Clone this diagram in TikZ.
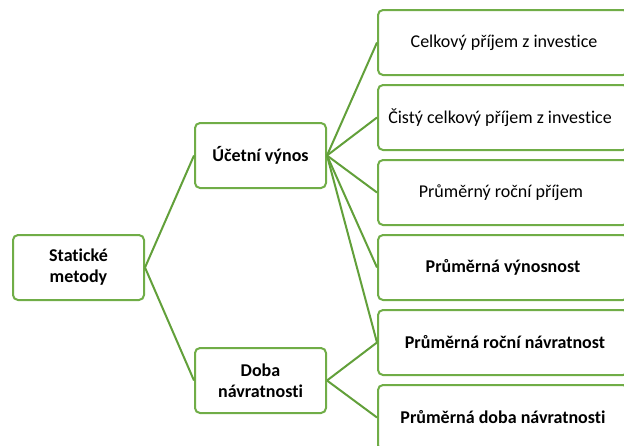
\documentclass[tikz,border=0pt]{standalone}
\usepackage{fontspec}
\setmainfont{Carlito}[Ligatures=NoCommon]
\definecolor{boxgreen}{HTML}{70AD47}
\definecolor{linegreen}{HTML}{62A03A}
\begin{document}
\begin{tikzpicture}[x=1pt,y=-1pt,
  box/.style={draw=boxgreen, line width=2pt, rounded corners=5pt, fill=white,
    minimum width=131pt, minimum height=65pt, align=center, inner sep=2pt,
    font=\fontsize{18}{21}\selectfont},
  rbox/.style={box, minimum width=250pt, anchor=west},
  conn/.style={draw=linegreen, line width=2pt},
  lbl/.style={font=\fontsize{18}{21}\selectfont},
  blbl/.style={font=\fontsize{18}{21}\selectfont\bfseries}]
\useasboundingbox (0,0) rectangle (624,445);
\clip (0,0) rectangle (624,445);
\node[box, blbl] (sm) at (78.5,267.5) {Statické\\metody};
\node[box, blbl] (uv) at (260.5,155.5) {Účetní výnos};
\node[box, blbl] (dn) at (260.5,380.5) {Doba\\návratnosti};
\node[rbox] (r1) at (377,42.5) {};
\node[rbox] (r2) at (377,117.5) {};
\node[rbox] (r3) at (377,192.5) {};
\node[rbox] (r4) at (377,267.5) {};
\node[rbox] (r5) at (377,342.5) {};
\node[rbox] (r6) at (377,417.5) {};
\node[lbl] (t1) at (504,42.5) {Celkový příjem z investice};
\node[lbl] (t2) at (500,117.5) {Čistý celkový příjem z investice};
\node[lbl] (t3) at (501,192.5) {Průměrný roční příjem};
\node[blbl] (t4) at (503,267.5) {Průměrná výnosnost};
\node[blbl] (t5) at (505,342.5) {Průměrná roční návratnost};
\node[blbl] (t6) at (503,417.5) {Průměrná doba návratnosti};
\draw[conn] (sm.east) -- (uv.west);
\draw[conn] (sm.east) -- (dn.west);
\foreach \r in {r1,r2,r3,r4,r5} \draw[conn] (uv.east) -- (\r.west);
\draw[conn] (dn.east) -- (r5.west);
\draw[conn] (dn.east) -- (r6.west);
\end{tikzpicture}
\end{document}
